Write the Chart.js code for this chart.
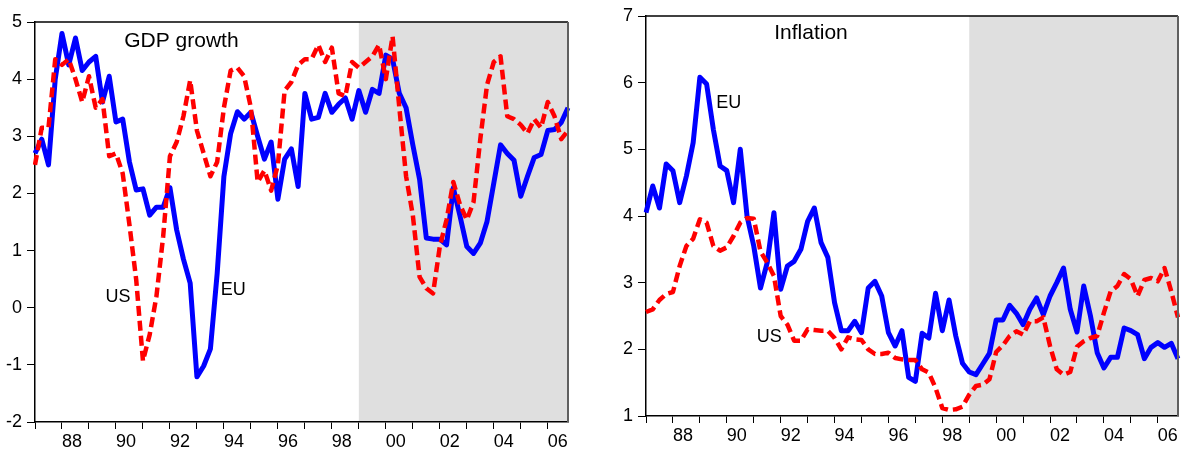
<!DOCTYPE html>
<html>
<head>
<meta charset="utf-8">
<script src="https://cdn.jsdelivr.net/npm/chart.js@4.4.1/dist/chart.umd.min.js"></script>
<style>
  body { margin: 0; background: #fff; }
  #left { position: absolute; left: 0; top: 0; }
  #right { position: absolute; left: 590px; top: 0; }
</style>
</head>
<body>
<canvas id="left" width="590" height="451"></canvas>
<canvas id="right" width="602" height="451"></canvas>
<script>
// quarterly observations 1987Q1 - 2006Q4
const quarters = [
  '1987Q1','1987Q2','1987Q3','1987Q4','1988Q1','1988Q2','1988Q3','1988Q4',
  '1989Q1','1989Q2','1989Q3','1989Q4','1990Q1','1990Q2','1990Q3','1990Q4',
  '1991Q1','1991Q2','1991Q3','1991Q4','1992Q1','1992Q2','1992Q3','1992Q4',
  '1993Q1','1993Q2','1993Q3','1993Q4','1994Q1','1994Q2','1994Q3','1994Q4',
  '1995Q1','1995Q2','1995Q3','1995Q4','1996Q1','1996Q2','1996Q3','1996Q4',
  '1997Q1','1997Q2','1997Q3','1997Q4','1998Q1','1998Q2','1998Q3','1998Q4',
  '1999Q1','1999Q2','1999Q3','1999Q4','2000Q1','2000Q2','2000Q3','2000Q4',
  '2001Q1','2001Q2','2001Q3','2001Q4','2002Q1','2002Q2','2002Q3','2002Q4',
  '2003Q1','2003Q2','2003Q3','2003Q4','2004Q1','2004Q2','2004Q3','2004Q4',
  '2005Q1','2005Q2','2005Q3','2005Q4','2006Q1','2006Q2','2006Q3','2006Q4'
];
const yearTickLabels = ['88','90','92','94','96','98','00','02','04','06'];
const shadeStart = '1999Q1';

// GDP growth
const gdpEU = [
  2.7, 2.95, 2.5, 4.0, 4.8, 4.25, 4.72, 4.15, 4.3, 4.4,
  3.6, 4.05, 3.25, 3.3, 2.55, 2.06, 2.08, 1.62, 1.76, 1.76,
  2.1, 1.36, 0.85, 0.43, -1.21, -1.02, -0.72, 0.6, 2.3, 3.05,
  3.43, 3.3, 3.42, 3.0, 2.6, 2.9, 1.9, 2.6, 2.78, 2.12,
  3.75, 3.3, 3.33, 3.75, 3.42, 3.56, 3.67, 3.3, 3.8, 3.42,
  3.82, 3.75, 4.42, 4.35, 3.75, 3.5, 2.85, 2.25, 1.22, 1.2,
  1.2, 1.1, 2.1, 1.6, 1.07, 0.95, 1.13, 1.51, 2.18, 2.85,
  2.7, 2.58, 1.95, 2.3, 2.63, 2.68, 3.1, 3.12, 3.24, 3.5
];
const gdpUS = [
  2.5, 3.15, 3.15, 4.35, 4.25, 4.35, 4.0, 3.6, 4.05, 3.5,
  3.65, 2.65, 2.7, 2.35, 1.45, 0.49, -0.93, -0.47, 0.2, 1.25,
  2.65, 2.9, 3.35, 3.98, 3.1, 2.7, 2.3, 2.55, 3.5, 4.15,
  4.2, 4.05, 3.5, 2.2, 2.4, 2.05, 2.5, 3.8, 3.95, 4.25,
  4.35, 4.35, 4.6, 4.3, 4.55, 3.75, 3.7, 4.3, 4.2, 4.3,
  4.4, 4.6, 4.0, 4.75, 3.5, 2.3, 1.62, 0.54, 0.34, 0.25,
  1.07, 1.54, 2.2, 1.8, 1.54, 1.85, 2.95, 3.9, 4.3, 4.4,
  3.35, 3.3, 3.2, 3.05, 3.3, 3.15, 3.6, 3.35, 2.95, 3.1
];

// Inflation
const inflEU = [
  4.05, 4.45, 4.12, 4.78, 4.68, 4.2, 4.6, 5.1, 6.08, 5.98,
  5.3, 4.75, 4.68, 4.2, 5.0, 4.0, 3.55, 2.92, 3.3, 4.05,
  2.9, 3.25, 3.32, 3.5, 3.92, 4.12, 3.6, 3.38, 2.7, 2.28,
  2.28, 2.42, 2.25, 2.92, 3.02, 2.8, 2.25, 2.05, 2.28, 1.58,
  1.52, 2.24, 2.17, 2.84, 2.28, 2.74, 2.2, 1.79, 1.66, 1.62,
  1.78, 1.94, 2.44, 2.44, 2.66, 2.54, 2.37, 2.6, 2.77, 2.52,
  2.8, 3.0, 3.22, 2.6, 2.26, 2.95, 2.5, 1.95, 1.72, 1.88,
  1.88, 2.32, 2.28, 2.22, 1.86, 2.03, 2.1, 2.03, 2.09, 1.86
];
const inflUS = [
  2.56, 2.6, 2.74, 2.83, 2.86, 3.25, 3.55, 3.66, 3.95, 3.9,
  3.55, 3.48, 3.53, 3.7, 3.9, 3.97, 3.96, 3.47, 3.3, 3.1,
  2.5, 2.37, 2.13, 2.13, 2.3, 2.29, 2.28, 2.28, 2.17, 2.0,
  2.18, 2.15, 2.14, 2.0, 1.93, 1.93, 1.95, 1.87, 1.85, 1.84,
  1.84, 1.7, 1.65, 1.42, 1.12, 1.09, 1.1, 1.14, 1.32, 1.45,
  1.47, 1.55, 1.96, 2.06, 2.2, 2.27, 2.22, 2.42, 2.42, 2.48,
  2.05, 1.7, 1.62, 1.66, 2.04, 2.12, 2.17, 2.2, 2.55, 2.87,
  2.95, 3.13, 3.05, 2.8, 3.04, 3.07, 3.02, 3.22, 2.87, 2.48
];

Chart.defaults.font.family = '"Liberation Sans", Arial, sans-serif';
Chart.defaults.color = '#000';

// shading, frame, title and series notes
const decor = {
  id: 'decor',
  beforeDraw(chart, args, opts) {
    const {ctx, chartArea: a, scales: {x}} = chart;
    const x0 = x.getPixelForValue(quarters.indexOf(shadeStart));
    ctx.save();
    ctx.fillStyle = '#dfdfdf';
    ctx.fillRect(x0, a.top, a.right - x0, a.bottom - a.top);
    ctx.restore();
  },
  afterDraw(chart, args, opts) {
    const {ctx, chartArea: a, scales: {x, y}} = chart;
    ctx.save();
    ctx.strokeStyle = '#000';
    ctx.lineWidth = 1.5;
    ctx.beginPath();
    ctx.moveTo(a.left, a.top);
    ctx.lineTo(a.right, a.top);
    ctx.stroke();
    ctx.strokeStyle = '#606060';
    ctx.lineWidth = 2;
    ctx.beginPath();
    ctx.moveTo(a.right, a.top);
    ctx.lineTo(a.right, a.bottom);
    ctx.stroke();
    ctx.fillStyle = '#000';
    ctx.textAlign = 'center';
    ctx.textBaseline = 'middle';
    opts.notes.forEach(n => {
      ctx.font = n.size + 'px "Liberation Sans", Arial, sans-serif';
      ctx.fillText(n.text, x.getPixelForValue(n.at), y.getPixelForValue(n.v));
    });
    ctx.restore();
  }
};

function makeConfig(us, eu, yMin, yMax, yWidth, xHeight, pad, notes) {
  return {
    type: 'line',
    data: {
      labels: quarters,
      datasets: [{
        label: 'US',
        data: us,
        borderColor: '#ff0000',
        borderWidth: 4.5,
        borderDash: [10, 5],
        borderJoinStyle: 'round',
        pointRadius: 0,
        tension: 0
      },
      {
        label: 'EU',
        data: eu,
        borderColor: '#0000ff',
        borderWidth: 5,
        borderJoinStyle: 'round',
        pointRadius: 0,
        tension: 0
      }]
    },
    options: {
      responsive: false,
      animation: false,
      layout: { padding: pad },
      scales: {
        x: {
          grid: { drawOnChartArea: false, tickLength: 7, color: '#000' },
          border: { color: '#000', width: 1.5 },
          afterBuildTicks: s => { s.ticks = s.ticks.filter(t => quarters[t.value].endsWith('Q1')); },
          afterFit: s => { s.height = xHeight; },
          ticks: {
            autoSkip: false,
            maxRotation: 0,
            align: 'start',
            padding: 2,
            font: { size: 18 },
            callback: v => {
              const yy = quarters[v].slice(2, 4);
              return yearTickLabels.includes(yy) ? yy : '';
            }
          }
        },
        y: {
          min: yMin,
          max: yMax,
          grid: { drawOnChartArea: false, tickLength: 8, color: '#000' },
          border: { color: '#000', width: 1.5 },
          afterFit: s => { s.width = yWidth; },
          ticks: { stepSize: 1, padding: 5, font: { size: 18 } }
        }
      },
      plugins: {
        legend: { display: false },
        tooltip: { enabled: false },
        decor: { notes: notes }
      }
    },
    plugins: [decor]
  };
}

new Chart(document.getElementById('left').getContext('2d'),
  makeConfig(gdpUS, gdpEU, -2, 5, 35, 29, { top: 22, right: 22, left: 0, bottom: 0 }, [
    { text: 'GDP growth', at: 21.7, v: 4.66, size: 21 },
    { text: 'US', at: 12.3, v: 0.19, size: 18 },
    { text: 'EU', at: 29.4, v: 0.31, size: 18 }
  ]));

new Chart(document.getElementById('right').getContext('2d'),
  makeConfig(inflUS, inflEU, 1, 7, 56, 35, { top: 16, right: 14, left: 0, bottom: 0 }, [
    { text: 'Inflation', at: 24.5, v: 6.745, size: 21 },
    { text: 'EU', at: 12.3, v: 5.7, size: 18 },
    { text: 'US', at: 18.3, v: 2.19, size: 18 }
  ]));
</script>
</body>
</html>
